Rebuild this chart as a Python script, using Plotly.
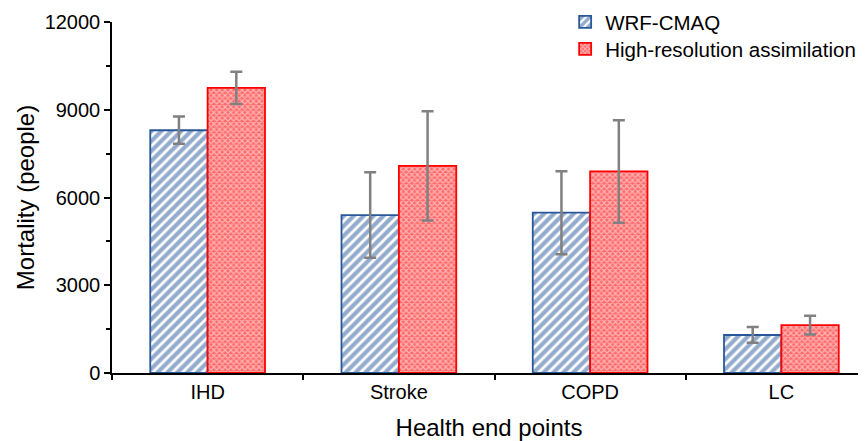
import plotly.graph_objects as go

categories = ["IHD", "Stroke", "COPD", "LC"]
wrf_values = [8300, 5400, 5480, 1300]
wrf_errors = [465, 1460, 1420, 270]
hra_values = [9750, 7080, 6890, 1640]
hra_errors = [550, 1870, 1750, 320]
y_ticks = [0, 3000, 6000, 9000, 12000]
y_tick_labels = ["0", "3000", "6000", "9000", "12000"]

xpos = list(range(len(categories)))
FONT = "Liberation Sans, Arial, sans-serif"

fig = go.Figure()
fig.add_trace(go.Bar(
    name="WRF-CMAQ", x=xpos, y=wrf_values, width=0.3, offset=-0.3,
    legend="legend",
    marker=dict(color="white", line=dict(color="#28589A", width=1.8),
                pattern=dict(shape="/", fgcolor="#28589A", bgcolor="white",
                             size=7, solidity=0.6)),
    error_y=dict(type="data", array=wrf_errors, color="#808080",
                 thickness=2.5, width=6),
))
fig.add_trace(go.Bar(
    name="High-resolution assimilation", x=xpos, y=hra_values, width=0.3, offset=0,
    legend="legend2",
    marker=dict(color="#FF6A6A", line=dict(color="#FF0000", width=1.8),
                pattern=dict(shape="x", fgcolor="white", bgcolor="#FF6A6A",
                             size=4, solidity=0.5)),
    error_y=dict(type="data", array=hra_errors, color="#808080",
                 thickness=2.5, width=6),
))

legend_style = dict(xanchor="left", yanchor="top", font=dict(size=20.5),
                    bgcolor="rgba(0,0,0,0)", itemwidth=30)

fig.update_layout(
    width=858, height=433,
    margin=dict(l=104, r=0, t=14, b=68, autoexpand=False),
    paper_bgcolor="white", plot_bgcolor="white",
    font=dict(family=FONT, size=20, color="black"),
    showlegend=True,
    legend=dict(x=0.601, y=1.057, **legend_style),
    legend2=dict(x=0.601, y=0.980, **legend_style),
    barmode="overlay",
    xaxis=dict(
        range=[-0.5, 3.5 - 11 / 191], automargin=False,
        tickmode="array", tickvals=xpos, ticktext=categories,
        ticks="", showline=True, linecolor="black", linewidth=1.5,
        showgrid=False, zeroline=False,
        tickfont=dict(size=20),
        minor=dict(tickmode="linear", tick0=-0.5, dtick=1, ticks="outside",
                   ticklen=5, tickcolor="black", tickwidth=1.5, showgrid=False),
        title=dict(text="Health end points", font=dict(size=24), standoff=20),
    ),
    yaxis=dict(
        range=[0, 12000], automargin=False,
        tickmode="array", tickvals=y_ticks, ticktext=y_tick_labels,
        ticks="outside", ticklen=6, tickwidth=1.5, tickcolor="black",
        showline=True, linecolor="black", linewidth=1.5,
        showgrid=False, zeroline=False,
        tickfont=dict(size=20),
        minor=dict(tickmode="linear", tick0=1500, dtick=3000, ticks="outside",
                   ticklen=4, tickcolor="black", tickwidth=1.5, showgrid=False),
        title=dict(text="Mortality (people)", font=dict(size=24), standoff=3),
    ),
)

fig.write_html("out.html")
